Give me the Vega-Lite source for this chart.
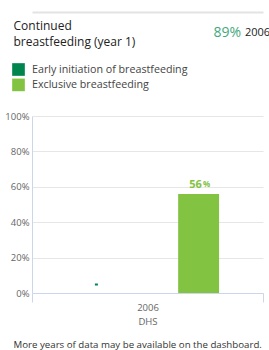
{
  "$schema": "https://vega.github.io/schema/vega-lite/v6.json",
  "width": 231,
  "height": 177,
  "autosize": "none",
  "padding": {"left": 32, "top": 116, "right": 6, "bottom": 57},
  "background": "white",
  "config": {"view": {"stroke": null}, "font": "Open Sans"},
  "data": {"values": [
    {"year": "2006 DHS", "indicator": "Early initiation of breastfeeding", "value": 0.048},
    {"year": "2006 DHS", "indicator": "Exclusive breastfeeding", "value": 0.56}
  ]},
  "resolve": {"axis": {"x": "independent", "y": "independent"}},
  "layer": [
    {
      "encoding": {
        "x": {"field": "year", "type": "nominal",
          "scale": {"paddingInner": 0, "paddingOuter": 0},
          "axis": {"orient": "bottom", "labelExpr": "split(datum.label, ' ')", "labelAngle": 0,
            "labelFont": "Open Sans", "labelFontSize": 9.5, "labelColor": "#666", "labelLineHeight": 14, "labelPadding": 0,
            "domainColor": "#ccd6eb", "tickColor": "#ccd6eb", "tickSize": 9, "tickBand": "extent", "grid": false,
            "title": "More years of data may be available on the dashboard.",
            "titleX": -19, "titleY": 54.5, "titleAlign": "left", "titleAnchor": null, "titleBaseline": "alphabetic",
            "titleFontWeight": "normal", "titleFontSize": 9.7, "titleColor": "#333", "titleFont": "Open Sans"}},
        "xOffset": {"field": "indicator", "type": "nominal",
          "scale": {"domain": ["Early initiation of breastfeeding", "Exclusive breastfeeding"], "paddingInner": 0.6, "paddingOuter": 0.43}},
        "y": {"field": "value", "type": "quantitative",
          "scale": {"domain": [0, 1], "nice": false},
          "axis": {"orient": "left", "values": [0, 0.2, 0.4, 0.6, 0.8, 1], "format": ".0%",
            "labelFont": "Open Sans", "labelFontSize": 9.5, "labelColor": "#666", "labelPadding": 3,
            "ticks": false, "domain": true, "domainColor": "#ccd6eb", "grid": true, "gridColor": "#e6e6e6",
            "title": "89%", "titleAngle": 0, "titleX": 181, "titleY": -83.5, "titleAlign": "left", "titleBaseline": "middle",
            "titleColor": "#3fa97d", "titleFontSize": 14, "titleFontWeight": "normal", "titleFont": "Open Sans"}},
        "color": {"field": "indicator", "type": "nominal",
          "scale": {"domain": ["Early initiation of breastfeeding", "Exclusive breastfeeding"], "range": ["#00854f", "#82c341"]},
          "legend": {"orient": "none", "legendX": -20, "legendY": -53, "title": null, "padding": 0,
            "symbolType": "square", "symbolSize": 160, "symbolStrokeWidth": 0, "symbolOpacity": 1,
            "labelFont": "Open Sans", "labelFontSize": 10.7, "labelColor": "#444", "labelOffset": 7, "rowPadding": 2.4}}
      },
      "layer": [
        {"transform": [{"filter": "datum.indicator === 'Exclusive breastfeeding'"}],
         "mark": {"type": "bar"}},
        {"transform": [{"filter": "datum.indicator === 'Early initiation of breastfeeding'"}],
         "mark": {"type": "tick", "size": 3, "thickness": 2, "opacity": 1}},
        {"transform": [{"filter": "datum.indicator === 'Exclusive breastfeeding'"}],
         "mark": {"type": "text", "dy": -9, "dx": 8, "fontWeight": "bold", "fontSize": 8, "font": "Open Sans", "align": "center"},
         "encoding": {"text": {"value": "%"}}}
      ]
    },
    {
      "transform": [{"filter": "datum.indicator === 'Exclusive breastfeeding'"}],
      "mark": {"type": "text", "dy": -9, "dx": -3, "fontWeight": "bold", "fontSize": 11, "color": "#82c341", "font": "Open Sans", "align": "center",
        "text": {"expr": "format(datum.value * 100, '.0f')"}},
      "encoding": {
        "x": {"field": "year", "type": "nominal",
          "axis": {"orient": "top", "offset": 104, "labels": false, "ticks": false, "grid": false,
            "domainColor": "#e3e3e3", "domainWidth": 2,
            "title": ["Continued", "breastfeeding (year 1)"], "titleX": -19, "titleY": 17.8,
            "titleAlign": "left", "titleAnchor": null, "titleBaseline": "alphabetic", "titleFontSize": 12,
            "titleFontWeight": "normal", "titleColor": "#222", "titleLineHeight": 16, "titleFont": "Open Sans"}},
        "xOffset": {"field": "indicator", "type": "nominal"},
        "y": {"field": "value", "type": "quantitative",
          "axis": {"orient": "right", "labels": false, "ticks": false, "domain": false, "grid": false,
            "title": "2006", "titleAngle": 0, "titleX": -18.5, "titleY": -83.5, "titleAlign": "left", "titleBaseline": "middle",
            "titleFontSize": 11, "titleColor": "#222", "titleFontWeight": "normal", "titleFont": "Open Sans"}}
      }
    }
  ]
}
